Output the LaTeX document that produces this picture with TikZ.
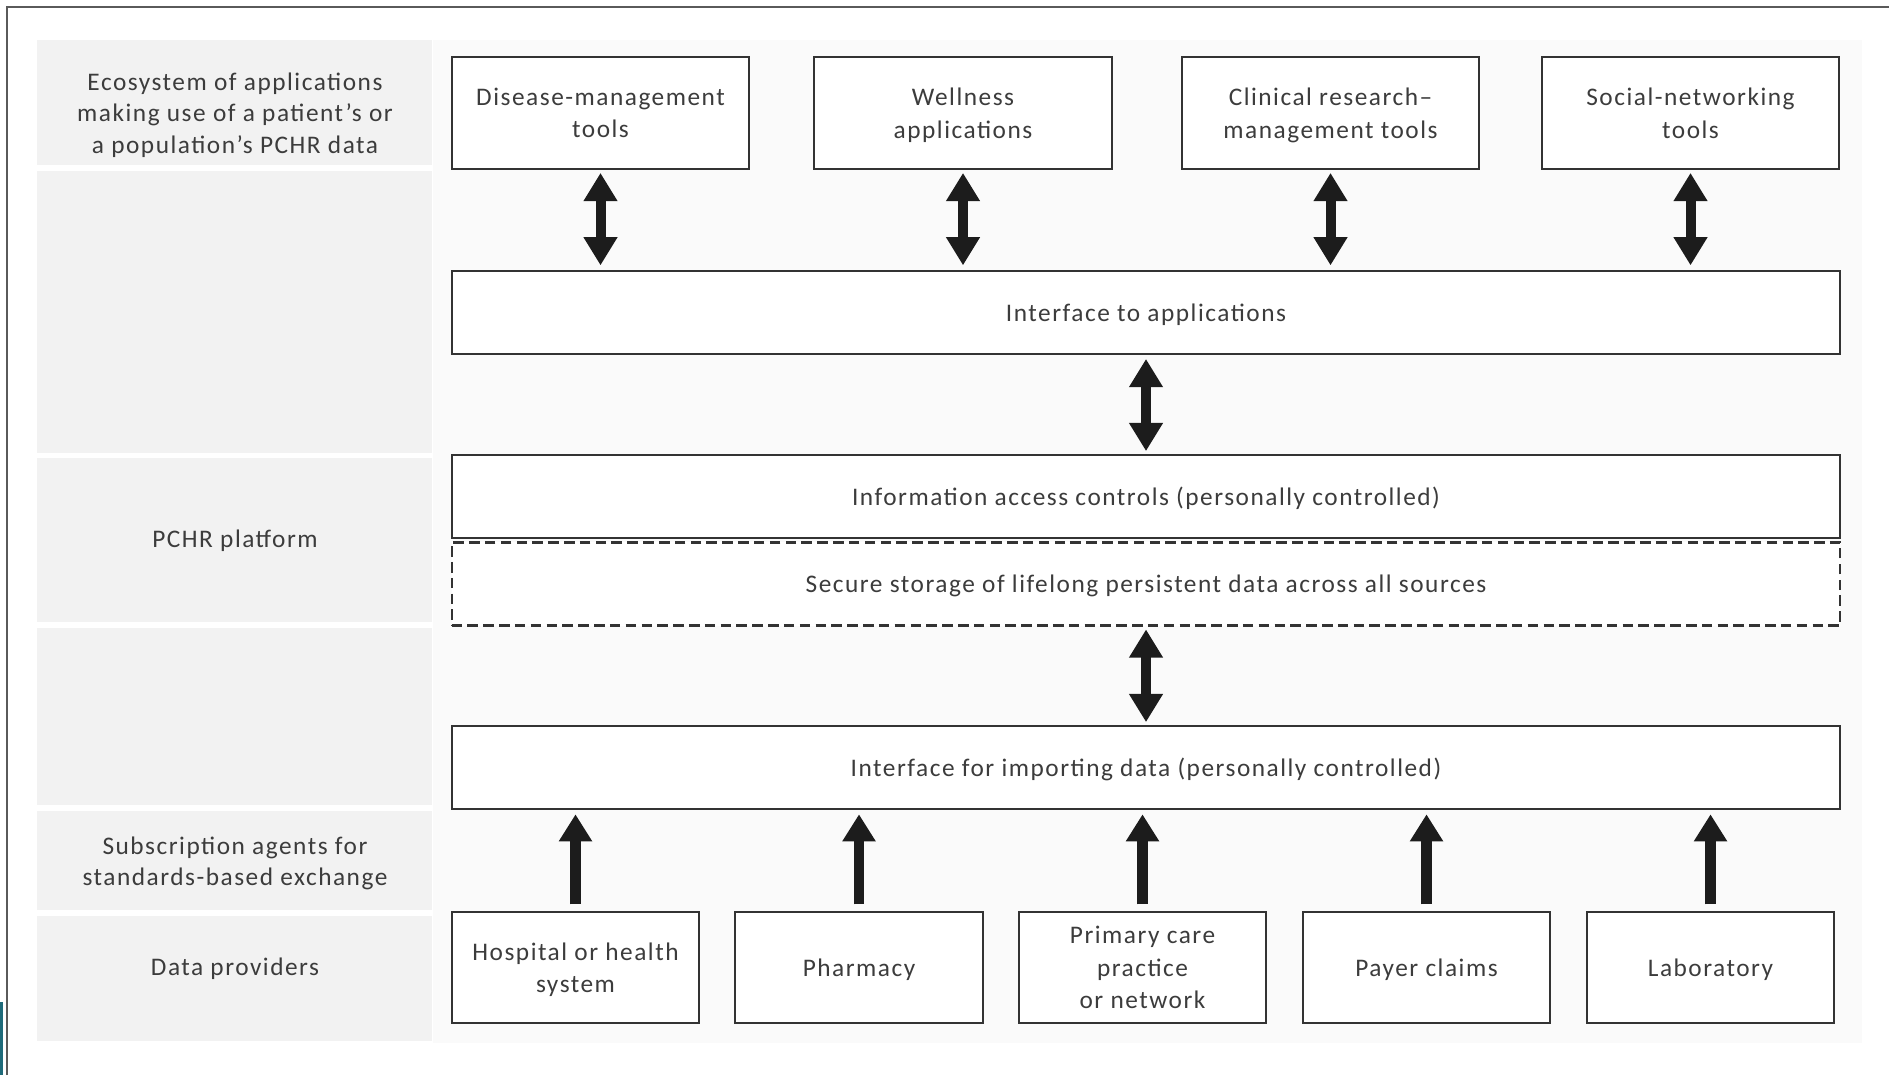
\documentclass[tikz,border=0pt]{standalone}
\usepackage{fontspec}
\setmainfont[LetterSpace=6]{Carlito}
\usetikzlibrary{arrows.meta}
\definecolor{ink}{HTML}{333333}
\definecolor{txtink}{HTML}{3C3C3C}
\definecolor{band}{HTML}{F2F2F2}
\definecolor{panel}{HTML}{FAFAFA}
\definecolor{frame}{HTML}{5A5A5A}
\definecolor{teal}{HTML}{1F6B7A}
\definecolor{arrowink}{HTML}{1C1C1C}
\tikzset{
  txt/.style={font=\fontsize{7.2pt}{8.9pt}\selectfont, text=txtink, align=center,
    inner sep=0pt, text depth=0pt},
  box/.style={txt, font=\fontsize{7.2pt}{9.25pt}\selectfont, draw=ink, line width=0.6pt, fill=white},
  appbox/.style={box, minimum width=2.97cm, minimum height=1.12cm},
  widebox/.style={box, minimum width=13.88cm, minimum height=0.83cm},
  srcbox/.style={box, minimum width=2.47cm, minimum height=1.11cm},
  twoway/.style={draw=arrowink, line width=2.85pt,
    {Triangle[width=9.1pt,length=8pt]}-{Triangle[width=9.1pt,length=8pt]}},
  oneway/.style={draw=arrowink, line width=3pt,
    -{Triangle[width=9pt,length=7.7pt]}},
}
\begin{document}
\begin{tikzpicture}[x=0.01cm, y=-0.01cm]
\useasboundingbox (0,0) rectangle (1889,1075);
\fill[white] (0,0) rectangle (1889,1075);

% page frame and side tab
\draw[frame, line width=0.6pt] (7,1075) -- (7,7) -- (1889,7);
\fill[teal] (0,1002) rectangle (2.5,1075);

% background panels
\fill[panel] (433,40) rectangle (1862,1043);
\fill[band] (37,40) rectangle (432,165);
\fill[band] (37,171) rectangle (432,453);
\fill[band] (37,458) rectangle (432,622);
\fill[band] (37,628) rectangle (432,805);
\fill[band] (37,811) rectangle (432,910);
\fill[band] (37,916) rectangle (432,1041);

% row labels
\node[txt] (lab1) at (235,113) {Ecosystem of applications\\making use of a patient’s or\\a population’s PCHR data};
\node[txt] (lab2) at (235,539) {PCHR platform};
\node[txt] (lab3) at (235,861) {Subscription agents for\\standards-based exchange};
\node[txt] (lab4) at (235,967) {Data providers};

% applications
\node[appbox] (dis) at (600.5,113) {Disease-management\\tools};
\node[appbox] (well) at (963,113) {Wellness\\applications};
\node[appbox] (clin) at (1330.5,113) {Clinical research–\\management tools};
\node[appbox] (soc) at (1690.5,113) {Social-networking\\tools};

% platform layers
\node[widebox] (iface) at (1146,312.5) {Interface to applications};
\node[widebox] (access) at (1146,496.5) {Information access controls (personally controlled)};
\node[widebox, dashed, dash pattern=on 3pt off 1.5pt] (store) at (1146,584) {Secure storage of lifelong persistent data across all sources};
\node[widebox] (import) at (1146,767.5) {Interface for importing data (personally controlled)};

% data providers
\node[srcbox] (hosp) at (575.5,967.5) {Hospital or health\\system};
\node[srcbox] (pharm) at (859,967.5) {Pharmacy};
\node[srcbox] (prim) at (1142.5,967.5) {Primary care\\practice\\or network};
\node[srcbox] (payer) at (1426.5,967.5) {Payer claims};
\node[srcbox] (lab) at (1710.5,967.5) {Laboratory};

% two-way links
\foreach \a in {dis,well,clin,soc}
  \draw[twoway, shorten <=0.8pt, shorten >=1.3pt] (\a.south) -- (\a.south |- iface.north);
\draw[twoway, shorten <=1.1pt, shorten >=0.8pt] (iface.south) -- (access.north);
\draw[twoway, shorten <=0.8pt, shorten >=0.8pt] (store.south) -- (import.north);

% one-way feeds
\foreach \s in {hosp,pharm,prim,payer,lab}
  \draw[oneway, shorten <=1.9pt, shorten >=1.2pt] (\s.north) -- (\s.north |- import.south);
\end{tikzpicture}
\end{document}
